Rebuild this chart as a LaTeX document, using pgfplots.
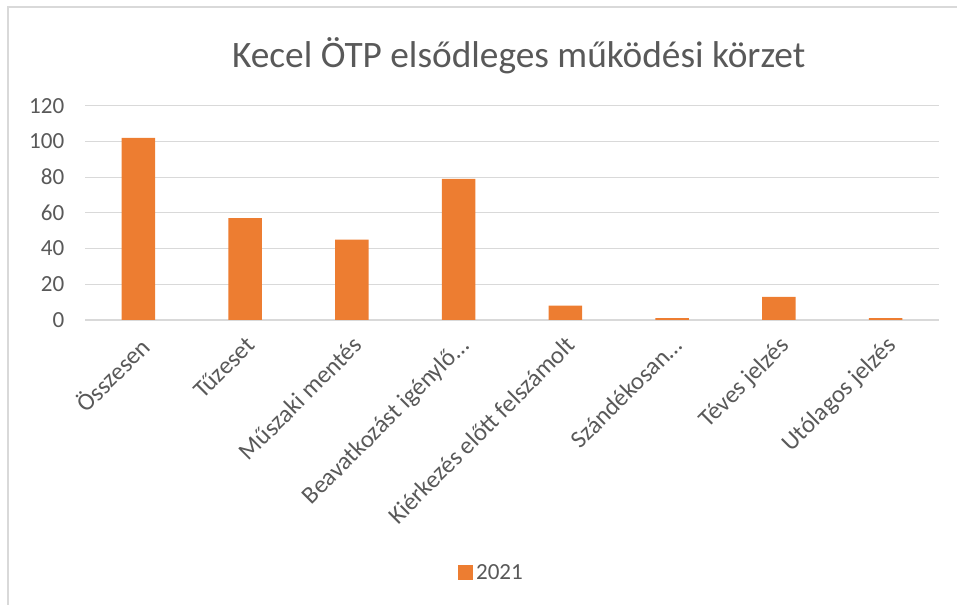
\documentclass[border=0pt]{standalone}
\usepackage{pgfplots}
\pgfplotsset{compat=1.18}
\usepackage{fontspec}
\setmainfont{Carlito}
\definecolor{barorange}{HTML}{ED7D31}
\definecolor{txtgray}{HTML}{595959}
\definecolor{gridgray}{HTML}{D9D9D9}
\begin{document}
\begin{tikzpicture}[x=1pt,y=1pt]
\useasboundingbox (0,0) rectangle (717.75,453.75);
\draw[gridgray,line width=0.9pt] (6,-20) -- (6,448.5) -- (740,448.5);
\node[text=txtgray,font=\fontsize{28}{33}\selectfont] at (389,412) {Kecel ÖTP elsődleges működési körzet};
\begin{axis}[
  at={(63.75pt,213.75pt)}, anchor=south west,
  width=640.5pt, height=160.7pt, scale only axis,
  xmin=-0.5, xmax=7.5, ymin=0, ymax=120,
  ytick={0,20,...,120},
  xtick={0,...,7},
  xticklabels={Összesen,Tűzeset,Műszaki mentés,Beavatkozást igénylő…,Kiérkezés előtt felszámolt,Szándékosan…,Téves jelzés,Utólagos jelzés},
  axis line style={draw=none},
  major tick length=0pt,
  ymajorgrids, grid style={gridgray,line width=0.9pt},
  tick label style={text=txtgray,font=\fontsize{17.3}{20}\selectfont},
  /pgf/number format/assume math mode=true,
  yticklabel style={xshift=-12pt},
  xticklabel style={xshift=-0.5pt,yshift=-9.5pt,rotate=45,anchor=north east,inner sep=1pt,font=\fontsize{18.5}{22}\selectfont},
  ybar, bar width=25pt,
  legend style={at={(0.4766,-1.18)},anchor=center,draw=none,font=\fontsize{17.3}{20}\selectfont,text=txtgray},
  legend image code/.code={\fill[barorange] (0pt,-5.6pt) rectangle (11.2pt,5.6pt);},
]
\addplot[fill=barorange,draw=none] coordinates {(0,102) (1,57) (2,45) (3,79) (4,8) (5,1) (6,13) (7,1)};
\addlegendentry{2021}
\end{axis}
\end{tikzpicture}
\end{document}
